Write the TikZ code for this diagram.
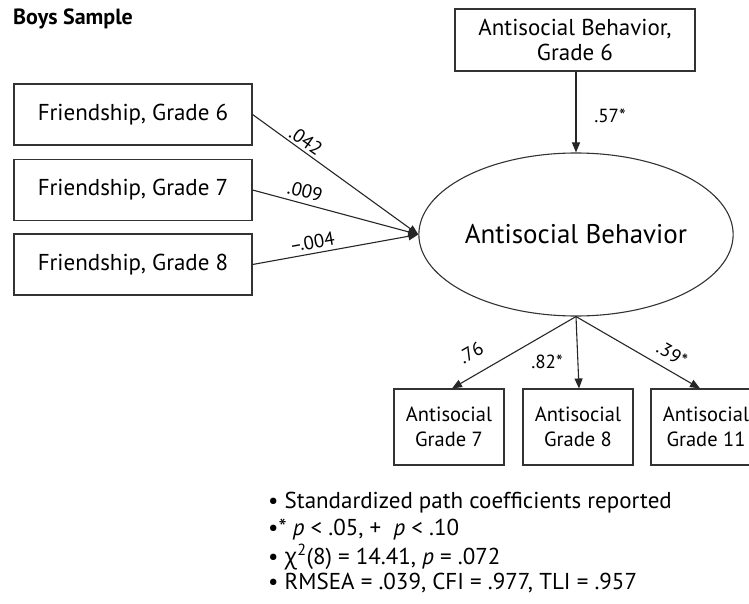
\documentclass[tikz,border=0pt]{standalone}
\usepackage{fontspec}
\setmainfont{PT Sans}
\newfontfamily\grkfont{Open Sans}
\usetikzlibrary{arrows.meta,shapes.geometric}
\newcommand\szbox{\fontsize{23}{25.5}\selectfont}
\newcommand\szell{\fontsize{27}{29}\selectfont}
\newcommand\szsmall{\fontsize{20.5}{25}\selectfont}
\newcommand\szlab{\fontsize{19}{21}\selectfont}
\newcommand\sznote{\fontsize{23}{25}\selectfont}
\tikzset{
  frbox/.style={draw=black!80, line width=1.1pt, inner sep=0pt, minimum width=238pt, minimum height=61pt, font=\szbox},
  topbox/.style={draw=black!80, line width=1.1pt, inner sep=0pt, minimum width=240pt, minimum height=62pt, align=center, font=\szbox},
  outbox/.style={draw=black!80, line width=1.1pt, inner sep=0pt, minimum width=110pt, minimum height=76pt, align=center, font=\szsmall},
  latent/.style={draw=black!80, line width=1.1pt, ellipse, inner sep=0pt, minimum width=308pt, minimum height=163pt, font=\szell},
  path/.style={draw=black!85, line width=1.1pt, -{Triangle[length=10pt,width=8pt]}},
  lab/.style={font=\szlab, inner sep=0pt},
  note/.style={font=\sznote, anchor=west, inner sep=0pt}
}
\begin{document}
\begin{tikzpicture}[x=1pt,y=-1pt]
\useasboundingbox (0,0) rectangle (749,604);
\clip (0,0) rectangle (749,604);
\node[font=\fontsize{22}{24}\selectfont\bfseries, anchor=west, inner sep=0pt] (title) at (13,19) {Boys Sample};

\node[topbox] (ab6) at (575,40) {Antisocial Behavior,\\Grade 6};
\node[latent] (ab) at (576,234.5) {Antisocial Behavior};

\node[frbox] (f6) at (133,114.5) {Friendship, Grade 6};
\node[frbox] (f7) at (133,190) {Friendship, Grade 7};
\node[frbox] (f8) at (133,264.5) {Friendship, Grade 8};

\node[outbox] (a7) at (449,427) {Antisocial\\Grade 7};
\node[outbox] (a8) at (578,427) {Antisocial\\Grade 8};
\node[outbox] (a11) at (706,427) {Antisocial\\Grade 11};

\draw[path] (ab6.south -| ab.north) -- (ab.north);
\draw[path] (f6.east) -- (ab.west);
\draw[path] (f7.east) -- (ab.west);
\draw[path] (f8.east) -- (ab.west);
\draw[path] (ab.south) -- ([xshift=3pt]a7.north);
\draw[path] (ab.south) -- ([xshift=1pt]a8.north);
\draw[path] (ab.south) -- ([xshift=-6pt]a11.north);

\node[lab] (l57) at (610,116) {.57*};
\node[lab, rotate=-35] (l042) at (306,141) {.042};
\node[lab, rotate=-14.5] (l009) at (305,191) {.009};
\node[lab, rotate=10] (l004) at (312,242) {--.004};
\node[lab, rotate=30] (l76) at (471,353) {.76};
\node[lab] (l82) at (547,362) {.82*};
\node[lab, rotate=-30] (l39) at (672,354) {.39*};

\node[note] (n1) at (268,503) {• Standardized path coefficients reported};
\node[note] (n2) at (268,530) {•* \textit{p} < .05, +\ \ \textit{p} < .10};
\node[note] (n3) at (268,557) {• {\grkfont χ}\textsuperscript{2}(8) = 14.41, \textit{p} = .072};
\node[note] (n4) at (268,583) {• RMSEA = .039, CFI = .977, TLI = .957};
\end{tikzpicture}
\end{document}
